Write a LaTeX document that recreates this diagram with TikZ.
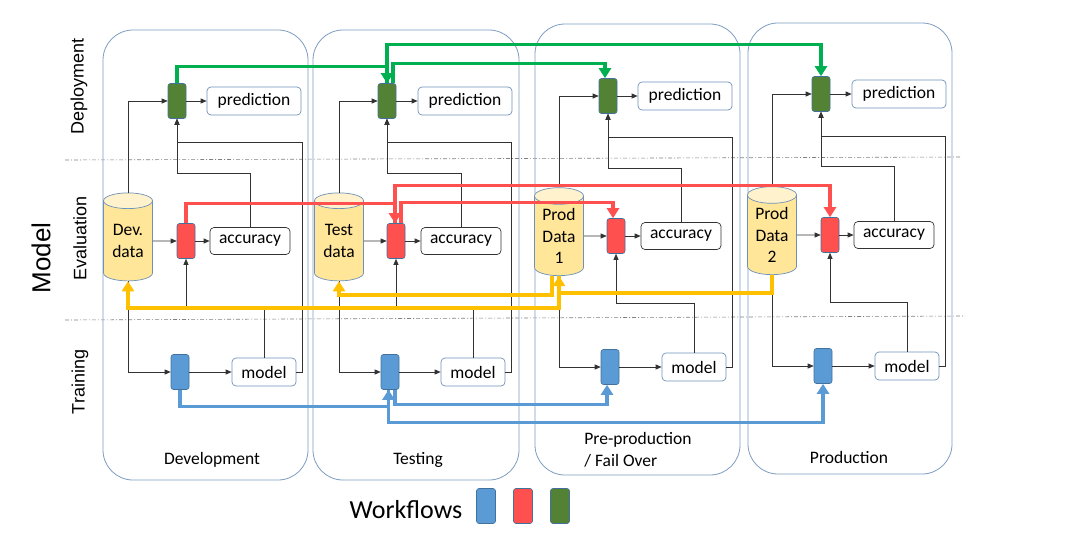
\documentclass[tikz,border=0pt]{standalone}
\usepackage{fontspec}
\setmainfont{Carlito}
\newfontfamily\rowfont{Liberation Sans}
\usepackage{tikz}
\usetikzlibrary{arrows.meta,shapes.geometric}
\definecolor{panelc}{RGB}{126,156,192}
\definecolor{boxline}{RGB}{110,145,185}
\definecolor{wfline}{RGB}{65,113,156}
\definecolor{linec}{RGB}{50,50,50}
\definecolor{wfblue}{RGB}{91,155,213}
\definecolor{wfred}{RGB}{255,80,80}
\definecolor{wfgreen}{RGB}{84,130,53}
\definecolor{flowgreen}{RGB}{0,176,80}
\definecolor{flowyellow}{RGB}{255,192,0}
\definecolor{dbfill}{RGB}{255,230,153}
\definecolor{dbtop}{RGB}{255,242,204}

\begin{document}
\begin{tikzpicture}[x=1pt,y=-1pt,font=\fontsize{17.5}{21.5}\selectfont,
        panel/.style={draw=panelc,line width=0.8pt,rounded corners=30pt},
        sep/.style={draw=gray,line width=0.6pt,dash pattern=on 4pt off 2pt on 1pt off 2pt},
        wf/.style={draw=wfline,line width=0.6pt,rounded corners=2.5pt,minimum width=18pt,minimum height=35pt,inner sep=0pt},
        pred/.style={draw=boxline,line width=0.7pt,rounded corners=4pt,minimum width=94pt,minimum height=28pt,inner sep=0pt},
        acc/.style={draw=linec,line width=0.7pt,rounded corners=4pt,minimum width=80pt,minimum height=27pt,inner sep=0pt},
        mdl/.style={draw=boxline,line width=0.7pt,rounded corners=4pt,minimum width=64pt,minimum height=28pt,inner sep=0pt},
        db/.style={cylinder,shape border rotate=90,aspect=0.5,draw=boxline,line width=0.7pt,
                cylinder uses custom fill,cylinder body fill=dbfill,cylinder end fill=dbtop,
                minimum width=49pt,minimum height=88pt,align=center,inner sep=0pt},
        rowlbl/.style={rotate=90,font=\rowfont\fontsize{18}{22}\selectfont},
        conn/.style={draw=linec,line width=0.7pt,-{Triangle[length=6pt,width=5pt]}},
        flowg/.style={draw=flowgreen,line width=3.2pt,-{Triangle[length=10pt,width=12pt]}},
        flowr/.style={draw=wfred,line width=3.2pt,-{Triangle[length=10pt,width=12pt]}},
        flowy/.style={draw=flowyellow,line width=3.2pt,-{Triangle[length=10pt,width=12pt]}},
        flowb/.style={draw=wfblue,line width=3.2pt,-{Triangle[length=10pt,width=12pt]}}]
        \useasboundingbox (0,0) rectangle (1065,539);

        \draw[sep] (65,160) -- (960,157);
        \draw[sep] (65,320) -- (965,316);

        \draw[panel] (103,30) rectangle (308,480);
        \draw[panel] (313,30) rectangle (519,480);
        \draw[panel] (535,24) rectangle (740,475);
        \draw[panel] (748,23) rectangle (952,474);

        \node[rowlbl] (rowdep) at (79,86) {Deployment};
        \node[rowlbl] (roweval) at (80,238) {Evaluation};
        \node[rowlbl] (rowtrain) at (80,382) {Training};
        \node[rowlbl,font=\rowfont\fontsize{26}{30}\selectfont] (rowmodel) at (41,258) {Model};

        \node (devlbl) at (212,460) {Development};
        \node (testlbl) at (418,460) {Testing};
        \node[align=left] (prelbl) at (638,450) {Pre-production\\/ Fail Over};
        \node (prodlbl) at (849,457) {Production};

        \node[wf,fill=wfgreen] (devg) at (177,101) {};
        \node[pred] (devpred) at (254,101) {prediction};
        \node[db] (devdb) at (128,241) {Dev.\\data};
        \node[wf,fill=wfred] (devr) at (186,241) {};
        \node[acc] (devacc) at (250,241) {accuracy};
        \node[wf,fill=wfblue] (devb) at (180,372) {};
        \node[mdl] (devmod) at (264,372) {model};

        \node[wf,fill=wfgreen] (tg) at (387,101) {};
        \node[pred] (tpred) at (465,101) {prediction};
        \node[db] (tdb) at (339,241) {Test\\data};
        \node[wf,fill=wfred] (tr) at (396,241) {};
        \node[acc] (tacc) at (461,241) {accuracy};
        \node[wf,fill=wfblue] (tb) at (390,372) {};
        \node[mdl] (tmod) at (473,372) {model};

        \node[wf,fill=wfgreen] (pg) at (608,96) {};
        \node[pred] (ppred) at (685,96) {prediction};
        \node[db] (pdb) at (559,236) {Prod\\Data\\1};
        \node[wf,fill=wfred] (pr) at (616,236) {};
        \node[acc] (pacc) at (681,236) {accuracy};
        \node[wf,fill=wfblue] (pb) at (610,367) {};
        \node[mdl] (pmod) at (694,367) {model};

        \node[wf,fill=wfgreen] (qg) at (821,94) {};
        \node[pred] (qpred) at (899,94) {prediction};
        \node[db] (qdb) at (772,235) {Prod\\Data\\2};
        \node[wf,fill=wfred] (qr) at (830,235) {};
        \node[acc] (qacc) at (894,235) {accuracy};
        \node[wf,fill=wfblue] (qb) at (823,366) {};
        \node[mdl] (qmod) at (907,366) {model};

        \draw[conn] (devdb.north) |- (devg.west);
        \draw[conn] (devg.east) -- (devpred.west);
        \draw[conn] (devacc.north) |- (devg.south |- 0,173) -- (devg.south);
        \draw[conn] (devmod.east) -- ++(6,0) |- (devg.south |- 0,142) -- (devg.south);
        \draw[conn] (devdb.east) -- (devr.west);
        \draw[conn] (devr.east) -- (devacc.west);
        \draw[conn] (devmod.north) |- (devr.south |- 0,308) -- (devr.south);
        \draw[conn] (devdb.south) |- (devb.west);
        \draw[conn] (devb.east) -- (devmod.west);

        \draw[conn] (tdb.north) |- (tg.west);
        \draw[conn] (tg.east) -- (tpred.west);
        \draw[conn] (tacc.north) |- (tg.south |- 0,173) -- (tg.south);
        \draw[conn] (tmod.east) -- ++(6,0) |- (tg.south |- 0,142) -- (tg.south);
        \draw[conn] (tdb.east) -- (tr.west);
        \draw[conn] (tr.east) -- (tacc.west);
        \draw[conn] (tmod.north) |- (tr.south |- 0,308) -- (tr.south);
        \draw[conn] (tdb.south) |- (tb.west);
        \draw[conn] (tb.east) -- (tmod.west);

        \draw[conn] (pdb.north) |- (pg.west);
        \draw[conn] (pg.east) -- (ppred.west);
        \draw[conn] (pacc.north) |- (pg.south |- 0,168) -- (pg.south);
        \draw[conn] (pmod.east) -- ++(6,0) |- (pg.south |- 0,137) -- (pg.south);
        \draw[conn] (pdb.east) -- (pr.west);
        \draw[conn] (pr.east) -- (pacc.west);
        \draw[conn] (pmod.north) |- (pr.south |- 0,303) -- (pr.south);
        \draw[conn] (pdb.south) |- (pb.west);
        \draw[conn] (pb.east) -- (pmod.west);

        \draw[conn] (qdb.north) |- (qg.west);
        \draw[conn] (qg.east) -- (qpred.west);
        \draw[conn] (qacc.north) |- (qg.south |- 0,166) -- (qg.south);
        \draw[conn] (qmod.east) -- ++(6,0) |- (qg.south |- 0,136) -- (qg.south);
        \draw[conn] (qdb.east) -- (qr.west);
        \draw[conn] (qr.east) -- (qacc.west);
        \draw[conn] (qmod.north) |- (qr.south |- 0,302) -- (qr.south);
        \draw[conn] (qdb.south) |- (qb.west);
        \draw[conn] (qb.east) -- (qmod.west);

        \draw[flowg] (devg.north) -- ++(0,-17) -| (tg.north);
        \draw[flowg] (tg.north) -- ++(0,-39) -| (qg.north);
        \draw[flowg] ([xshift=6pt]tg.north) -- ++(0,-20) -| ([xshift=-3pt]pg.north);

        \draw[flowr] (devr.north) -- ++(0,-19.5) -| ([xshift=-1pt]tr.north);
        \draw[flowr] ([xshift=-1pt]tr.north) -- ++(0,-37.5) -| (qr.north);
        \draw[flowr] ([xshift=5pt]tr.north) -- ++(0,-20.5) -| ([xshift=-3pt]pr.north);

        \draw[flowy] ([xshift=-7pt]pdb.south) -- ++(0,19) -| (tdb.south);
        \draw[flowy] (qdb.south) -- ++(0,18) -| (pdb.south);
        \draw[flowy] (pdb.south) -- ++(0,32) -| (devdb.south);

        \draw[flowb] (devb.south) -- ++(0,16.5) -| ([xshift=-1.5pt]tb.south);
        \draw[flowb] ([xshift=-1.5pt]tb.south) -- ++(0,32.5) -| (qb.south);
        \draw[flowb] ([xshift=5pt]tb.south) -- ++(0,14.5) -| ([xshift=-3pt]pb.south);

        \node[font=\fontsize{26}{30}\selectfont] (wflbl) at (406,510) {Workflows};
        \node[wf,fill=wfblue,minimum width=19pt] (lgb) at (486,506) {};
        \node[wf,fill=wfred,minimum width=19pt] (lgr) at (523,506) {};
        \node[wf,fill=wfgreen,minimum width=19pt] (lgg) at (560,506) {};
    \end{tikzpicture}
\end{document}
